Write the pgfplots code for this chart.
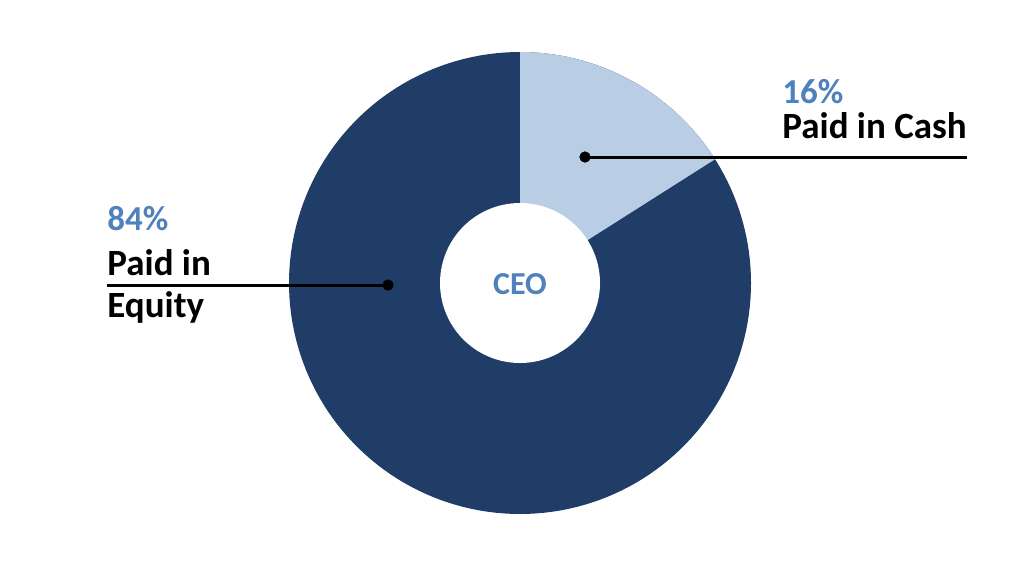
\documentclass[border=0pt]{standalone}
\usepackage{pgfplots}
\pgfplotsset{compat=1.18}
\usepackage{pgfplotstable}
\usepackage{fontspec}
\setmainfont{Carlito}
\definecolor{darkblue}{HTML}{1F3D66}
\definecolor{lightblue}{HTML}{B9CDE5}
\definecolor{txtblue}{HTML}{4F81BD}
\pgfplotstableread{
label value
Cash 16
Equity 84
}\shares
\begin{document}
\begin{tikzpicture}
\pgfplotstablegetelem{0}{value}\of\shares
\pgfmathsetmacro{\cashend}{90-3.6*\pgfplotsretval}
\begin{axis}[
  scale only axis, width=518pt, height=285pt,
  xmin=0, xmax=1036, ymin=0, ymax=570,
  hide axis, clip=false,
]
% outer disc (equity)
\addplot[fill=darkblue, draw=none, domain=0:360, samples=181, variable=\t]
  ({520+231*cos(\t)}, {287+231*sin(\t)}) -- cycle;
% cash sector
\addplot[fill=lightblue, draw=none, domain=\cashend:90, samples=60, variable=\t]
  ({520+231*cos(\t)}, {287+231*sin(\t)}) -- (axis cs:520,287) -- cycle;
% hole
\addplot[fill=white, draw=none, domain=0:360, samples=121, variable=\t]
  ({520+80*cos(\t)}, {287+80*sin(\t)}) -- cycle;
% leader lines
\addplot[black, line width=1.5pt] coordinates {(585,413) (967,413)};
\addplot[black, line width=1.5pt] coordinates {(107,285) (388,285)};
\addplot[only marks, mark=*, mark size=2.6pt, black] coordinates {(585,413) (388,285)};
% labels
\node[anchor=base west, inner sep=0pt, font=\bfseries\fontsize{17.5pt}{20pt}\selectfont, text=txtblue] at (axis cs:782,467) {16\%};
\node[anchor=base west, inner sep=0pt, font=\bfseries\fontsize{18.5pt}{22pt}\selectfont] at (axis cs:782,432) {Paid in Cash};
\node[anchor=base west, inner sep=0pt, font=\bfseries\fontsize{17.5pt}{20pt}\selectfont, text=txtblue] at (axis cs:107,340) {84\%};
\node[anchor=base west, inner sep=0pt, font=\bfseries\fontsize{18.5pt}{22pt}\selectfont] at (axis cs:107,295) {Paid in};
\node[anchor=base west, inner sep=0pt, font=\bfseries\fontsize{18.5pt}{22pt}\selectfont] at (axis cs:107,253) {Equity};
\node[anchor=center, inner sep=0pt, font=\bfseries\fontsize{16pt}{19pt}\selectfont, text=txtblue] at (axis cs:520,286) {CEO};
\end{axis}
\path (current axis.south west) rectangle (current axis.north east);
\end{tikzpicture}
\end{document}
